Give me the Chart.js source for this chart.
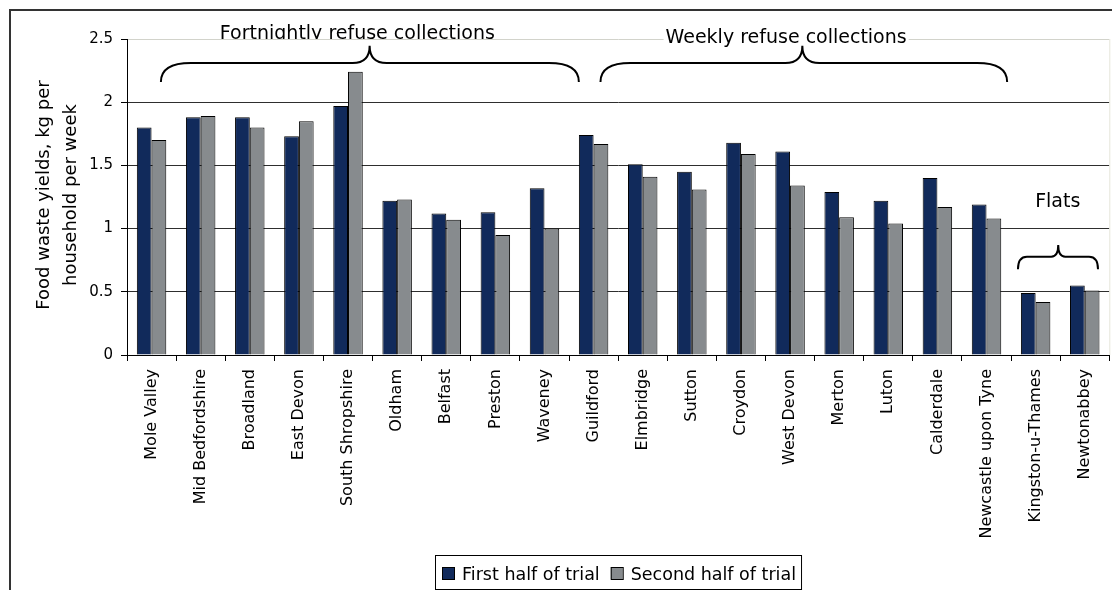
<!DOCTYPE html>
<html>
<head>
<meta charset="utf-8">
<title>Food waste yields</title>
<script src="https://cdn.jsdelivr.net/npm/chart.js@4/dist/chart.umd.min.js"></script>
<style>
  html, body { margin: 0; padding: 0; background: #ffffff; }
  #wrap { width: 1112px; height: 590px; position: relative; }
</style>
</head>
<body>
<div id="wrap"><canvas id="chart" width="1112" height="590"></canvas></div>
<script>
// Local authorities in the trial
const categories = [
  'Mole Valley', 'Mid Bedfordshire', 'Broadland', 'East Devon', 'South Shropshire',
  'Oldham', 'Belfast', 'Preston', 'Waveney', 'Guildford', 'Elmbridge', 'Sutton',
  'Croydon', 'West Devon', 'Merton', 'Luton', 'Calderdale', 'Newcastle upon Tyne',
  'Kingston-u-Thames', 'Newtonabbey'
];

// kg per household per week
const firstHalf = [
  1.80, 1.88, 1.88, 1.73, 1.97, 1.22, 1.12, 1.13, 1.32, 1.74,
  1.51, 1.45, 1.68, 1.61, 1.29, 1.22, 1.40, 1.19, 0.49, 0.55
];
const secondHalf = [
  1.70, 1.89, 1.80, 1.85, 2.24, 1.23, 1.07, 0.95, 1.00, 1.67,
  1.41, 1.31, 1.59, 1.34, 1.09, 1.04, 1.17, 1.08, 0.42, 0.51
];

const seriesNames = ['First half of trial', 'Second half of trial'];
const yTickValues = [0, 0.5, 1, 1.5, 2, 2.5];
const yTickLabels = ['0', '0.5', '1', '1.5', '2', '2.5'];
const yTitleLines = ['Food waste yields, kg per', 'household per week'];

// Collection-regime groups: label and span over category indices
const groupLabels = ['Fortnightly refuse collections', 'Weekly refuse collections', 'Flats'];
const groupFrom   = [0.19, 9.14, 17.64];
const groupTo     = [8.70, 17.42, 19.27];
const groupTip    = [4.44, 13.25, 18.46];
const groupText   = [4.19, 12.92, 18.45];

const FONT = "'DejaVu Sans', Verdana, sans-serif";
const NAVY = '#112a5b';
const GREY = '#878b8e';

// Curly brace between two x pixels, opening downwards
function drawBrace(ctx, xl, xr, xt, yLine, yEnd, yTip, r, rt) {
  ctx.beginPath();
  ctx.moveTo(xl, yEnd);
  ctx.quadraticCurveTo(xl, yLine, xl + r, yLine);
  ctx.lineTo(xt - rt, yLine);
  ctx.quadraticCurveTo(xt, yLine, xt, yTip);
  ctx.quadraticCurveTo(xt, yLine, xt + rt, yLine);
  ctx.lineTo(xr - r, yLine);
  ctx.quadraticCurveTo(xr, yLine, xr, yEnd);
  ctx.stroke();
}

const decorations = {
  id: 'decorations',
  beforeDraw(chart) {
    const ctx = chart.ctx;
    ctx.save();
    ctx.fillStyle = '#ffffff';
    ctx.fillRect(0, 0, chart.width, chart.height);
    ctx.restore();
  },
  afterDraw(chart) {
    const ctx = chart.ctx;
    const xs = chart.scales.x, ys = chart.scales.y;
    const area = chart.chartArea;
    ctx.save();

    // outer frame
    ctx.strokeStyle = '#333333';
    ctx.lineWidth = 2;
    ctx.strokeRect(10, 10, chart.width + 20, chart.height + 20);

    // faint right edge of the plot
    ctx.strokeStyle = '#e6e6da';
    ctx.lineWidth = 1;
    ctx.beginPath();
    ctx.moveTo(area.right + 0.5, area.top);
    ctx.lineTo(area.right + 0.5, area.bottom);
    ctx.stroke();

    // y-axis title
    ctx.fillStyle = '#000000';
    ctx.font = '18px ' + FONT;
    ctx.textAlign = 'center';
    ctx.textBaseline = 'alphabetic';
    const midY = (area.top + area.bottom) / 2 - 2;
    [49, 76].forEach((bx, i) => {
      ctx.save();
      ctx.translate(bx, midY);
      ctx.rotate(-Math.PI / 2);
      ctx.fillText(yTitleLines[i], 0, 0);
      ctx.restore();
    });

    // group labels
    ctx.font = '19px ' + FONT;
    // fortnightly: sits on the top gridline, descenders hidden by the plot
    ctx.save();
    ctx.beginPath();
    ctx.rect(0, 0, chart.width, area.top);
    ctx.clip();
    ctx.fillText(groupLabels[0], xs.getPixelForValue(groupText[0]), area.top);
    ctx.restore();
    // weekly: boxed label over the top gridline
    const wx = xs.getPixelForValue(groupText[1]);
    const ww = ctx.measureText(groupLabels[1]).width;
    ctx.fillStyle = '#ffffff';
    ctx.fillRect(wx - ww / 2 - 2, area.top - 16, ww + 4, 22);
    ctx.fillStyle = '#000000';
    ctx.fillText(groupLabels[1], wx, area.top + 4);
    // flats
    ctx.fillText(groupLabels[2], xs.getPixelForValue(groupText[2]), ys.getPixelForValue(1.17));

    // braces
    ctx.strokeStyle = '#000000';
    ctx.lineWidth = 2;
    ctx.lineCap = 'butt';
    for (let i = 0; i < 2; i++) {
      drawBrace(ctx,
        xs.getPixelForValue(groupFrom[i]), xs.getPixelForValue(groupTo[i]),
        xs.getPixelForValue(groupTip[i]),
        ys.getPixelForValue(2.31), ys.getPixelForValue(2.16), ys.getPixelForValue(2.447),
        30, 17);
    }
    drawBrace(ctx,
      xs.getPixelForValue(groupFrom[2]), xs.getPixelForValue(groupTo[2]),
      xs.getPixelForValue(groupTip[2]),
      ys.getPixelForValue(0.778), ys.getPixelForValue(0.678), ys.getPixelForValue(0.87),
      9, 7);

    // legend
    ctx.font = '17.5px ' + FONT;
    ctx.textAlign = 'left';
    ctx.lineWidth = 1;
    let x = 442;
    const boxTop = 567, base = 580;
    let textEnd = x;
    chart.data.datasets.forEach((ds, i) => {
      ctx.fillStyle = ds.backgroundColor;
      ctx.fillRect(x, boxTop, 12, 12);
      ctx.strokeStyle = '#000000';
      ctx.strokeRect(x + 0.5, boxTop + 0.5, 12, 12);
      x += 13 + 7;
      ctx.fillStyle = '#000000';
      ctx.fillText(ds.label, x, base);
      textEnd = x + ctx.measureText(ds.label).width;
      x = textEnd + 11;
    });
    ctx.strokeStyle = '#000000';
    ctx.strokeRect(435.5, 555.5, textEnd + 5 - 435, 34);

    ctx.restore();
  }
};

new Chart(document.getElementById('chart'), {
  type: 'bar',
  data: {
    labels: categories,
    datasets: [
      { label: seriesNames[0], data: firstHalf, backgroundColor: NAVY,
        borderColor: '#000000', borderWidth: 1 },
      { label: seriesNames[1], data: secondHalf, backgroundColor: GREY,
        borderColor: '#000000', borderWidth: 1 }
    ]
  },
  options: {
    responsive: false,
    animation: false,
    devicePixelRatio: 1,
    layout: { padding: { top: 39, right: 2, bottom: 0, left: 0 } },
    datasets: { bar: { categoryPercentage: 0.6, barPercentage: 1.0 } },
    plugins: { legend: { display: false }, tooltip: { enabled: false } },
    scales: {
      x: {
        grid: { display: true, drawOnChartArea: false, drawTicks: true,
                tickLength: 6, color: '#000000', offset: true },
        border: { display: true, color: '#000000', width: 1 },
        ticks: { autoSkip: false, minRotation: 90, maxRotation: 90, padding: 8,
                 color: '#000000', font: { family: FONT, size: 16 } },
        afterFit(scale) { scale.height = 235; }
      },
      y: {
        min: 0, max: 2.5,
        afterBuildTicks(scale) { scale.ticks = yTickValues.map(v => ({ value: v })); },
        grid: {
          drawTicks: true, tickLength: 6, tickColor: '#000000',
          color: ctx => (ctx.tick && ctx.tick.value === 2.5) ? '#d2d3cb' : '#2e2e2e'
        },
        border: { display: true, color: '#000000', width: 1 },
        ticks: {
          padding: 8, color: '#000000', font: { family: FONT, size: 15 },
          callback: (v) => yTickLabels[yTickValues.indexOf(v)]
        },
        afterFit(scale) { scale.width = 127; }
      }
    }
  },
  plugins: [decorations]
});
</script>
</body>
</html>
